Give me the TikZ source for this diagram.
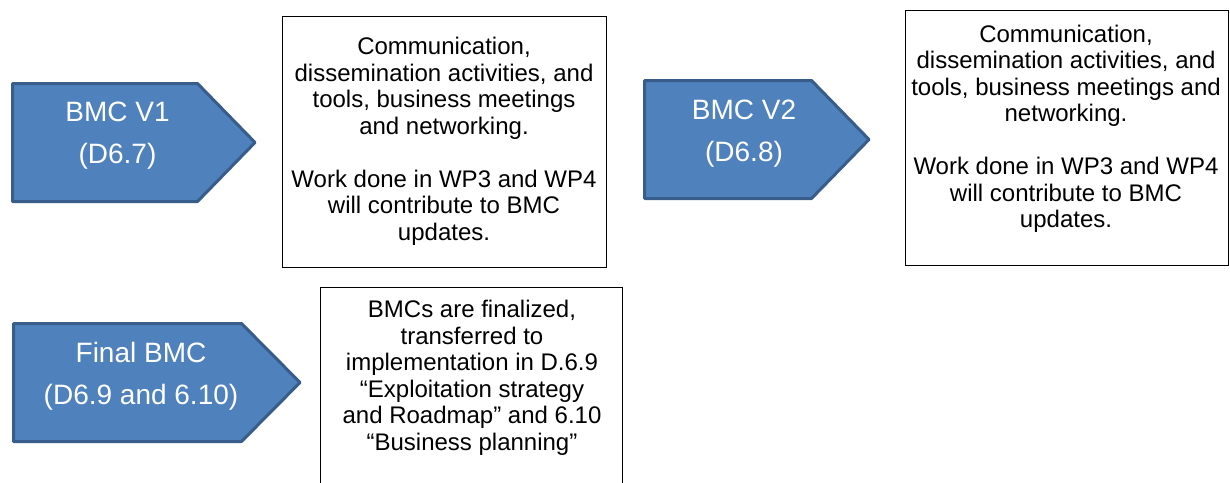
\documentclass[tikz,border=0pt]{standalone}
\usepackage{fontspec}
\setmainfont{Liberation Sans}
\definecolor{stageFill}{HTML}{4F81BD}
\definecolor{stageLine}{HTML}{385D8A}
\tikzset{
  stage/.style={fill=stageFill, draw=stageLine, line width=3pt, line join=round},
  stagetext/.style={text=white, align=center, inner sep=0pt,
    font=\fontsize{28}{42}\selectfont},
  panel/.style={draw=black, line width=1pt, inner sep=0pt},
  paneltext/.style={align=center, inner sep=0pt,
    font=\fontsize{24}{26.5}\selectfont},
}
\begin{document}
\begin{tikzpicture}[x=1pt, y=-1pt]
  \useasboundingbox (0,0) rectangle (1230,482);
  \clip (0,0) rectangle (1230,482);

  % stage arrows
  \draw[stage] (12.5,83.5) -- (197.5,83.5) -- (255,142.5) -- (197.5,201.5) -- (12.5,201.5) -- cycle;
  \node[stagetext] (v1) at (117.5,136) {BMC V1\\(D6.7)};

  \draw[stage] (644.5,80.5) -- (811.5,80.5) -- (869,139.5) -- (811.5,198.5) -- (644.5,198.5) -- cycle;
  \node[stagetext] (v2) at (744,134) {BMC V2\\(D6.8)};

  \draw[stage] (13.5,323.5) -- (241.5,323.5) -- (300,382.5) -- (241.5,441.5) -- (13.5,441.5) -- cycle;
  \node[stagetext] (vf) at (141,376) {Final BMC\\(D6.9 and 6.10)};

  % description panels
  \node[panel, minimum width=324pt, minimum height=251pt] (box1) at (444,141.5) {};
  \node[paneltext] (box1text) at (444,141.5)
    {Communication,\\dissemination activities, and\\tools, business meetings\\and networking.\\[26.5pt]
     Work done in WP3 and WP4\\will contribute to BMC\\updates.};

  \node[panel, minimum width=323pt, minimum height=255pt] (box2) at (1066.5,137.5) {};
  \node[paneltext] (box2text) at (1066,129)
    {Communication,\\dissemination activities, and\\tools, business meetings and\\networking.\\[26.5pt]
     Work done in WP3 and WP4\\will contribute to BMC\\updates.};

  \node[panel, minimum width=302pt, minimum height=251pt] (box3) at (471,412.5) {};
  \node[paneltext] (box3text) at (472,378)
    {BMCs are finalized,\\transferred to\\implementation in D.6.9\\``Exploitation strategy\\and Roadmap'' and 6.10\\``Business planning''};
\end{tikzpicture}
\end{document}
